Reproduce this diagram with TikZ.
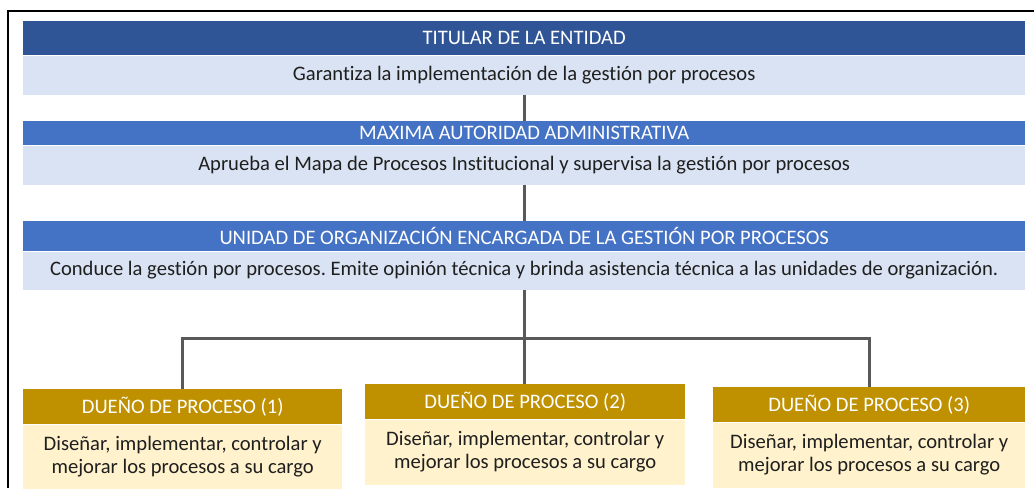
\documentclass[tikz,border=0pt]{standalone}
\usepackage{fontspec}
\setmainfont{Carlito}[Ligatures=NoCommon]
\usepackage{xcolor}
\usetikzlibrary{positioning}
\frenchspacing
\definecolor{titdark}{HTML}{2F5597}
\definecolor{titblue}{HTML}{4472C4}
\definecolor{descblue}{HTML}{DAE3F3}
\definecolor{ownergold}{HTML}{BF9000}
\definecolor{ownerlight}{HTML}{FFF2CC}
\definecolor{linkgray}{HTML}{595959}

\begin{document}
\begin{tikzpicture}[x=1pt, y=-1pt, font=\fontsize{20.6}{23}\selectfont,
  bar/.style={anchor=north west, inner sep=0pt, minimum width=1002pt, text=white},
  info/.style={inner sep=0pt, minimum width=1002pt, text=black!88, align=center},
  link/.style={draw=linkgray, line width=3pt}]
  \useasboundingbox (0,0) rectangle (1034,488);
  \draw[line width=2pt] (8,488) -- (8,11) -- (1034,11);

  % three levels of the entity, one under the other
  \node[bar, fill=titdark, minimum height=34pt] (tit1) at (23,21) {TITULAR DE LA ENTIDAD};
  \node[info, fill=descblue, minimum height=39pt, below=0pt of tit1] (tit1d)
    {Garantiza la implementación de la gestión por procesos};
  \node[bar, fill=titblue, minimum height=24pt] (tit2) at (23,121) {MAXIMA AUTORIDAD ADMINISTRATIVA};
  \node[info, fill=descblue, minimum height=39pt, below=0pt of tit2] (tit2d)
    {Aprueba el Mapa de Procesos Institucional y supervisa la gestión por procesos};
  \node[bar, fill=titblue, minimum height=30pt] (tit3) at (23,221)
    {UNIDAD DE ORGANIZACIÓN ENCARGADA DE LA GESTIÓN POR PROCESOS};
  \node[info, fill=descblue, minimum height=38pt, below=0pt of tit3] (tit3d)
    {Conduce la gestión por procesos. Emite opinión técnica y brinda asistencia técnica a las unidades de organización.};

  % process owners
  \foreach \n/\x/\y/\w in {1/23/389/319, 2/365/384/320, 3/713/387/312} {
    \node[bar, fill=ownergold, minimum width=\w pt, minimum height=35pt] (own\n) at (\x,\y)
      {DUEÑO DE PROCESO (\n)};
    \node[info, fill=ownerlight, minimum width=\w pt, minimum height=65pt, below=0pt of own\n] (ownd\n)
      {Diseñar, implementar, controlar y\\ mejorar los procesos a su cargo};
  }

  \coordinate (hub) at (524,338);
  \draw[link] (tit1d.south) -- (tit2.north);
  \draw[link] (tit2d.south) -- (tit3.north);
  \draw[link] (tit3d.south) -- (tit3d.south |- own2.north);
  \draw[link] (own1.north) |- (hub) -| (own3.north);
\end{tikzpicture}
\end{document}
